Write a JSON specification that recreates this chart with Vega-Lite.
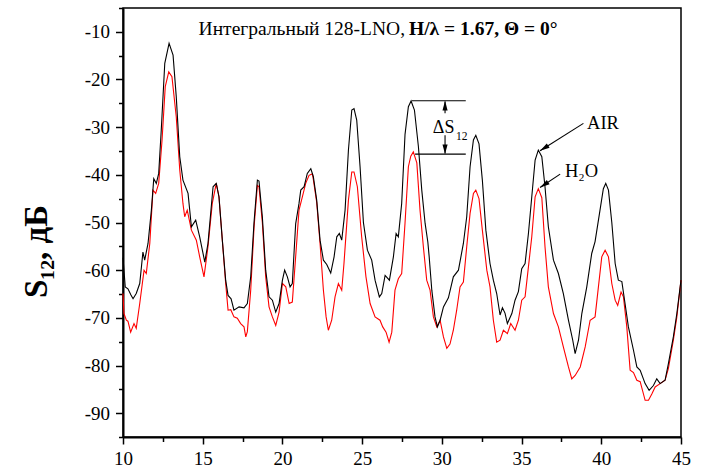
{
  "$schema": "https://vega.github.io/schema/vega-lite/v6.json",
  "autosize": "none",
  "padding": {"left": 123, "top": 8, "right": 20, "bottom": 34},
  "width": 558,
  "height": 429,
  "config": {
    "view": {"stroke": "black", "strokeWidth": 1.5},
    "font": "Liberation Serif",
    "axis": {"grid": false, "labelFont": "Liberation Serif", "titleFont": "Liberation Serif", "labelColor": "black", "tickColor": "black", "domainColor": "black", "titleColor": "black"}
  },
  "datasets": {
    "air": [
      {"x":10.00,"y":-57.4},{"x":10.14,"y":-63.5},{"x":10.31,"y":-63.9},{"x":10.50,"y":-65.2},{"x":10.63,"y":-66.0},{"x":10.83,"y":-64.9},{"x":11.05,"y":-62.8},{"x":11.25,"y":-56.2},{"x":11.36,"y":-57.9},{"x":11.57,"y":-54.4},{"x":11.78,"y":-47.4},{"x":11.93,"y":-40.8},{"x":12.09,"y":-41.8},{"x":12.24,"y":-39.7},{"x":12.40,"y":-30.6},{"x":12.62,"y":-16.6},{"x":12.89,"y":-12.4},{"x":13.14,"y":-14.9},{"x":13.34,"y":-23.6},{"x":13.56,"y":-36.2},{"x":13.76,"y":-41.1},{"x":14.08,"y":-43.9},{"x":14.29,"y":-50.9},{"x":14.56,"y":-49.5},{"x":14.81,"y":-53.0},{"x":15.13,"y":-58.3},{"x":15.33,"y":-54.4},{"x":15.65,"y":-42.5},{"x":15.85,"y":-41.8},{"x":16.02,"y":-44.6},{"x":16.23,"y":-53.7},{"x":16.44,"y":-62.1},{"x":16.59,"y":-65.3},{"x":16.78,"y":-66.0},{"x":16.96,"y":-68.4},{"x":17.28,"y":-67.7},{"x":17.59,"y":-67.9},{"x":17.80,"y":-67.0},{"x":18.01,"y":-61.4},{"x":18.22,"y":-49.9},{"x":18.43,"y":-41.1},{"x":18.53,"y":-41.3},{"x":18.74,"y":-48.8},{"x":18.95,"y":-60.0},{"x":19.16,"y":-65.6},{"x":19.37,"y":-66.3},{"x":19.58,"y":-68.8},{"x":19.79,"y":-67.0},{"x":20.00,"y":-62.1},{"x":20.14,"y":-60.0},{"x":20.31,"y":-61.4},{"x":20.48,"y":-63.5},{"x":20.62,"y":-62.8},{"x":20.83,"y":-50.3},{"x":21.04,"y":-46.0},{"x":21.15,"y":-43.2},{"x":21.36,"y":-42.5},{"x":21.56,"y":-39.7},{"x":21.78,"y":-38.7},{"x":21.94,"y":-40.4},{"x":22.15,"y":-45.3},{"x":22.36,"y":-53.7},{"x":22.57,"y":-57.9},{"x":22.78,"y":-58.8},{"x":23.03,"y":-60.6},{"x":23.24,"y":-57.2},{"x":23.41,"y":-53.0},{"x":23.57,"y":-52.3},{"x":23.72,"y":-53.7},{"x":23.93,"y":-47.4},{"x":24.14,"y":-34.8},{"x":24.35,"y":-26.4},{"x":24.49,"y":-26.1},{"x":24.66,"y":-28.5},{"x":24.87,"y":-38.3},{"x":25.08,"y":-50.0},{"x":25.33,"y":-55.8},{"x":25.60,"y":-57.9},{"x":25.81,"y":-62.1},{"x":26.08,"y":-65.6},{"x":26.23,"y":-64.9},{"x":26.44,"y":-61.1},{"x":26.71,"y":-62.1},{"x":26.96,"y":-57.2},{"x":27.13,"y":-52.3},{"x":27.27,"y":-53.0},{"x":27.48,"y":-46.0},{"x":27.69,"y":-31.5},{"x":27.90,"y":-25.7},{"x":28.07,"y":-24.5},{"x":28.28,"y":-26.4},{"x":28.53,"y":-34.1},{"x":28.74,"y":-43.2},{"x":28.95,"y":-50.2},{"x":29.12,"y":-54.1},{"x":29.20,"y":-57.0},{"x":29.37,"y":-64.2},{"x":29.57,"y":-69.8},{"x":29.72,"y":-71.9},{"x":29.89,"y":-70.5},{"x":30.10,"y":-67.7},{"x":30.41,"y":-65.8},{"x":30.72,"y":-61.4},{"x":31.04,"y":-60.0},{"x":31.35,"y":-54.4},{"x":31.56,"y":-48.8},{"x":31.77,"y":-38.3},{"x":31.98,"y":-32.7},{"x":32.13,"y":-31.7},{"x":32.33,"y":-33.5},{"x":32.54,"y":-41.1},{"x":32.76,"y":-51.6},{"x":33.02,"y":-58.6},{"x":33.23,"y":-62.1},{"x":33.44,"y":-64.9},{"x":33.65,"y":-69.4},{"x":33.80,"y":-67.9},{"x":33.96,"y":-69.0},{"x":34.11,"y":-71.2},{"x":34.39,"y":-69.1},{"x":34.59,"y":-66.3},{"x":34.80,"y":-64.5},{"x":35.01,"y":-59.7},{"x":35.22,"y":-58.6},{"x":35.43,"y":-52.3},{"x":35.64,"y":-44.6},{"x":35.85,"y":-36.9},{"x":36.05,"y":-34.8},{"x":36.27,"y":-36.2},{"x":36.47,"y":-42.5},{"x":36.68,"y":-50.9},{"x":37.00,"y":-57.9},{"x":37.31,"y":-60.7},{"x":37.62,"y":-64.9},{"x":37.94,"y":-70.5},{"x":38.21,"y":-74.7},{"x":38.36,"y":-77.5},{"x":38.57,"y":-74.7},{"x":38.78,"y":-69.1},{"x":39.09,"y":-63.5},{"x":39.40,"y":-56.5},{"x":39.61,"y":-54.0},{"x":39.92,"y":-47.4},{"x":40.13,"y":-42.9},{"x":40.28,"y":-41.8},{"x":40.45,"y":-43.2},{"x":40.66,"y":-50.0},{"x":40.87,"y":-58.6},{"x":41.07,"y":-62.1},{"x":41.29,"y":-62.4},{"x":41.49,"y":-67.0},{"x":41.70,"y":-71.9},{"x":42.02,"y":-76.8},{"x":42.23,"y":-80.3},{"x":42.44,"y":-81.0},{"x":42.75,"y":-83.8},{"x":43.00,"y":-85.2},{"x":43.27,"y":-84.2},{"x":43.48,"y":-82.8},{"x":43.69,"y":-83.8},{"x":44.00,"y":-83.1},{"x":44.21,"y":-79.6},{"x":44.52,"y":-74.0},{"x":44.74,"y":-69.1},{"x":45.00,"y":-62.1}
    ],
    "h2o": [
      {"x":10.00,"y":-64.9},{"x":10.06,"y":-69.1},{"x":10.21,"y":-70.5},{"x":10.31,"y":-70.7},{"x":10.48,"y":-73.0},{"x":10.69,"y":-71.2},{"x":10.83,"y":-72.2},{"x":11.05,"y":-67.0},{"x":11.32,"y":-60.0},{"x":11.46,"y":-60.7},{"x":11.68,"y":-54.4},{"x":11.88,"y":-43.2},{"x":12.05,"y":-43.9},{"x":12.24,"y":-41.8},{"x":12.45,"y":-32.7},{"x":12.65,"y":-21.5},{"x":12.87,"y":-18.4},{"x":13.07,"y":-19.4},{"x":13.34,"y":-27.8},{"x":13.56,"y":-39.0},{"x":13.76,"y":-46.0},{"x":13.87,"y":-48.8},{"x":14.03,"y":-47.4},{"x":14.29,"y":-51.6},{"x":14.60,"y":-53.7},{"x":14.81,"y":-57.2},{"x":15.08,"y":-61.4},{"x":15.33,"y":-55.1},{"x":15.60,"y":-46.0},{"x":15.85,"y":-41.8},{"x":16.02,"y":-44.6},{"x":16.23,"y":-53.7},{"x":16.44,"y":-62.8},{"x":16.59,"y":-68.4},{"x":16.76,"y":-68.3},{"x":16.96,"y":-69.8},{"x":17.17,"y":-70.1},{"x":17.38,"y":-71.2},{"x":17.59,"y":-71.9},{"x":17.70,"y":-74.0},{"x":17.80,"y":-72.9},{"x":18.01,"y":-64.2},{"x":18.22,"y":-51.0},{"x":18.43,"y":-42.2},{"x":18.53,"y":-42.5},{"x":18.74,"y":-50.0},{"x":18.95,"y":-61.4},{"x":19.16,"y":-67.7},{"x":19.37,"y":-69.8},{"x":19.58,"y":-71.6},{"x":19.79,"y":-68.8},{"x":20.00,"y":-62.8},{"x":20.21,"y":-63.5},{"x":20.42,"y":-67.0},{"x":20.62,"y":-66.7},{"x":20.83,"y":-57.2},{"x":21.04,"y":-47.4},{"x":21.25,"y":-44.6},{"x":21.46,"y":-41.8},{"x":21.67,"y":-40.1},{"x":21.88,"y":-39.8},{"x":21.94,"y":-41.0},{"x":22.15,"y":-45.8},{"x":22.36,"y":-54.4},{"x":22.57,"y":-64.2},{"x":22.74,"y":-69.8},{"x":22.88,"y":-72.6},{"x":23.09,"y":-70.5},{"x":23.30,"y":-65.6},{"x":23.51,"y":-62.8},{"x":23.72,"y":-64.2},{"x":23.86,"y":-58.6},{"x":24.14,"y":-45.3},{"x":24.35,"y":-39.4},{"x":24.49,"y":-39.4},{"x":24.70,"y":-42.5},{"x":24.97,"y":-53.0},{"x":25.24,"y":-61.4},{"x":25.50,"y":-67.0},{"x":25.81,"y":-69.8},{"x":26.12,"y":-70.5},{"x":26.29,"y":-71.9},{"x":26.50,"y":-73.0},{"x":26.69,"y":-75.1},{"x":26.86,"y":-73.0},{"x":27.06,"y":-64.2},{"x":27.27,"y":-61.8},{"x":27.48,"y":-60.7},{"x":27.69,"y":-50.1},{"x":27.90,"y":-38.3},{"x":28.05,"y":-36.1},{"x":28.21,"y":-35.2},{"x":28.43,"y":-37.5},{"x":28.63,"y":-47.4},{"x":28.84,"y":-55.1},{"x":29.05,"y":-62.1},{"x":29.26,"y":-64.2},{"x":29.47,"y":-69.8},{"x":29.68,"y":-71.9},{"x":29.89,"y":-70.5},{"x":30.10,"y":-74.0},{"x":30.31,"y":-76.4},{"x":30.51,"y":-75.5},{"x":30.72,"y":-72.6},{"x":30.93,"y":-68.4},{"x":31.14,"y":-63.5},{"x":31.35,"y":-62.5},{"x":31.56,"y":-55.1},{"x":31.77,"y":-48.1},{"x":31.98,"y":-43.9},{"x":32.13,"y":-43.2},{"x":32.33,"y":-45.0},{"x":32.54,"y":-51.6},{"x":32.82,"y":-60.0},{"x":33.02,"y":-63.5},{"x":33.23,"y":-70.5},{"x":33.44,"y":-75.1},{"x":33.65,"y":-74.7},{"x":33.86,"y":-72.6},{"x":34.11,"y":-73.3},{"x":34.32,"y":-71.2},{"x":34.59,"y":-72.6},{"x":34.80,"y":-70.5},{"x":35.01,"y":-66.3},{"x":35.22,"y":-65.6},{"x":35.43,"y":-59.3},{"x":35.64,"y":-53.0},{"x":35.85,"y":-44.6},{"x":36.05,"y":-42.9},{"x":36.27,"y":-44.8},{"x":36.47,"y":-55.1},{"x":36.68,"y":-63.5},{"x":37.00,"y":-69.1},{"x":37.31,"y":-71.9},{"x":37.62,"y":-76.1},{"x":37.94,"y":-80.3},{"x":38.15,"y":-82.8},{"x":38.36,"y":-82.1},{"x":38.68,"y":-80.3},{"x":38.99,"y":-76.1},{"x":39.30,"y":-70.5},{"x":39.61,"y":-69.8},{"x":39.82,"y":-63.5},{"x":40.03,"y":-57.2},{"x":40.24,"y":-55.8},{"x":40.45,"y":-57.2},{"x":40.66,"y":-62.8},{"x":40.87,"y":-66.3},{"x":41.03,"y":-67.4},{"x":41.24,"y":-64.6},{"x":41.39,"y":-65.6},{"x":41.60,"y":-71.9},{"x":41.81,"y":-81.0},{"x":42.02,"y":-81.5},{"x":42.23,"y":-83.1},{"x":42.44,"y":-83.4},{"x":42.75,"y":-87.3},{"x":42.96,"y":-87.3},{"x":43.17,"y":-86.0},{"x":43.38,"y":-84.5},{"x":43.69,"y":-83.8},{"x":44.00,"y":-83.1},{"x":44.21,"y":-80.6},{"x":44.52,"y":-74.7},{"x":44.74,"y":-69.8},{"x":45.00,"y":-62.1}
    ],
    "hlines": [{"x":28.11,"x2":31.5,"y":-24.46},{"x":28.32,"x2":31.5,"y":-35.65}],
    "vshafts": [{"x":30.2,"y":-24.6,"y2":-27.1},{"x":30.2,"y":-31.7,"y2":-35.5}],
    "leaders": [{"x":38.88,"y":-29.21,"x2":36.16,"y2":-34.96},{"x":37.42,"y":-39.85,"x2":36.16,"y2":-42.64}],
    "headUp": [{"x":30.2,"y":-24.46}],
    "headDown": [{"x":30.2,"y":-35.65}],
    "headAngled": [{"x":36.16,"y":-34.96},{"x":36.16,"y":-42.64}],
    "centerText": [{"x":30.11,"y":-31.31,"label":"ΔS"}],
    "leftText": [{"x":39.11,"y":-30.47,"label":"AIR"},{"x":37.72,"y":-40.55,"label":"H₂O"}],
    "subText": [{"x":30.89,"y":-32.71,"label":"12"}],
    "titleNormal": [{"x":27.69,"y":-10.7,"label":"Интегральный 128-LNO,"}],
    "titleBold": [{"x":27.94,"y":-10.7,"label":"H/λ = 1.67, Θ = 0°"}]
  },
  "resolve": {"axis": {"x": "independent", "y": "independent"}},
  "layer": [
    {
      "data": {"name": "h2o"},
      "mark": {"type": "line", "color": "#ff0000", "strokeWidth": 1.1},
      "encoding": {
        "x": {"field": "x", "type": "quantitative", "scale": {"domain": [10, 45], "nice": false, "zero": false},
              "axis": {"orient": "bottom", "values": [10,15,20,25,30,35,40,45], "tickSize": 7, "tickWidth": 1.5, "domainWidth": 2, "labelFont": "Liberation Serif", "labelFontSize": 19, "labelPadding": 5, "labelFlush": false, "labelOverlap": false, "title": null}},
        "y": {"field": "y", "type": "quantitative", "scale": {"domain": [-95, -5], "nice": false, "zero": false},
              "axis": {"orient": "left", "values": [-90,-80,-70,-60,-50,-40,-30,-20,-10], "labelExpr": "replace(datum.label, '−', '-')", "tickSize": 7.5, "tickWidth": 1.5, "domainWidth": 2, "labelFont": "Liberation Serif", "labelFontSize": 19, "labelPadding": 6, "labelFlush": false, "labelOverlap": false,
                       "title": "S₁₂, дБ", "titleFont": "Liberation Serif", "titleFontSize": 33, "titleFontWeight": "bold", "titleAngle": -90, "titleX": -77, "titleY": 243, "titleAlign": "center", "titleBaseline": "alphabetic"}}
      }
    },
    {
      "data": {"name": "air"},
      "mark": {"type": "line", "color": "black", "strokeWidth": 1.1},
      "encoding": {
        "x": {"field": "x", "type": "quantitative",
              "axis": {"orient": "bottom", "values": [12.5,17.5,22.5,27.5,32.5,37.5,42.5], "tickSize": 4.5, "tickWidth": 1.5, "domain": false, "labels": false, "title": null}},
        "y": {"field": "y", "type": "quantitative",
              "axis": {"orient": "left", "values": [-95,-85,-75,-65,-55,-45,-35,-25,-15,-5], "tickSize": 4.5, "tickWidth": 1.5, "domain": false, "labels": false, "title": null}}
      }
    },
    {
      "data": {"name": "hlines"},
      "mark": {"type": "rule", "color": "black", "strokeWidth": 1.1},
      "encoding": {
        "x": {"field": "x", "type": "quantitative", "axis": null}, "x2": {"field": "x2"},
        "y": {"field": "y", "type": "quantitative", "axis": null}
      }
    },
    {
      "data": {"name": "vshafts"},
      "mark": {"type": "rule", "color": "black", "strokeWidth": 1.1},
      "encoding": {
        "x": {"field": "x", "type": "quantitative", "axis": null},
        "y": {"field": "y", "type": "quantitative", "axis": null}, "y2": {"field": "y2"}
      }
    },
    {
      "data": {"name": "leaders"},
      "mark": {"type": "rule", "color": "black", "strokeWidth": 1.1},
      "encoding": {
        "x": {"field": "x", "type": "quantitative", "axis": null}, "x2": {"field": "x2"},
        "y": {"field": "y", "type": "quantitative", "axis": null}, "y2": {"field": "y2"}
      }
    },
    {
      "data": {"name": "headUp"},
      "mark": {"type": "point", "shape": "M0,0L-0.45,1.7L0.45,1.7Z", "filled": true, "color": "black", "size": 130, "opacity": 1, "angle": 0},
      "encoding": {
        "x": {"field": "x", "type": "quantitative", "axis": null},
        "y": {"field": "y", "type": "quantitative", "axis": null}
      }
    },
    {
      "data": {"name": "headDown"},
      "mark": {"type": "point", "shape": "M0,0L-0.45,1.7L0.45,1.7Z", "filled": true, "color": "black", "size": 130, "opacity": 1, "angle": 180},
      "encoding": {
        "x": {"field": "x", "type": "quantitative", "axis": null},
        "y": {"field": "y", "type": "quantitative", "axis": null}
      }
    },
    {
      "data": {"name": "headAngled"},
      "mark": {"type": "point", "shape": "M0,0L-0.45,1.7L0.45,1.7Z", "filled": true, "color": "black", "size": 130, "opacity": 1, "angle": 237},
      "encoding": {
        "x": {"field": "x", "type": "quantitative", "axis": null},
        "y": {"field": "y", "type": "quantitative", "axis": null}
      }
    },
    {
      "data": {"name": "centerText"},
      "mark": {"type": "text", "font": "Liberation Serif", "fontSize": 18, "color": "black", "baseline": "alphabetic", "align": "center"},
      "encoding": {
        "x": {"field": "x", "type": "quantitative", "axis": null},
        "y": {"field": "y", "type": "quantitative", "axis": null},
        "text": {"field": "label"}
      }
    },
    {
      "data": {"name": "leftText"},
      "mark": {"type": "text", "font": "Liberation Serif", "fontSize": 18.5, "color": "black", "baseline": "alphabetic", "align": "left"},
      "encoding": {
        "x": {"field": "x", "type": "quantitative", "axis": null},
        "y": {"field": "y", "type": "quantitative", "axis": null},
        "text": {"field": "label"}
      }
    },
    {
      "data": {"name": "subText"},
      "mark": {"type": "text", "font": "Liberation Serif", "fontSize": 11.5, "color": "black", "baseline": "alphabetic", "align": "left"},
      "encoding": {
        "x": {"field": "x", "type": "quantitative", "axis": null},
        "y": {"field": "y", "type": "quantitative", "axis": null},
        "text": {"field": "label"}
      }
    },
    {
      "data": {"name": "titleNormal"},
      "mark": {"type": "text", "font": "Liberation Serif", "fontSize": 19.5, "color": "black", "baseline": "alphabetic", "align": "right"},
      "encoding": {
        "x": {"field": "x", "type": "quantitative", "axis": null},
        "y": {"field": "y", "type": "quantitative", "axis": null},
        "text": {"field": "label"}
      }
    },
    {
      "data": {"name": "titleBold"},
      "mark": {"type": "text", "font": "Liberation Serif", "fontSize": 19.5, "fontWeight": "bold", "color": "black", "baseline": "alphabetic", "align": "left"},
      "encoding": {
        "x": {"field": "x", "type": "quantitative", "axis": null},
        "y": {"field": "y", "type": "quantitative", "axis": null},
        "text": {"field": "label"}
      }
    }
  ]
}
